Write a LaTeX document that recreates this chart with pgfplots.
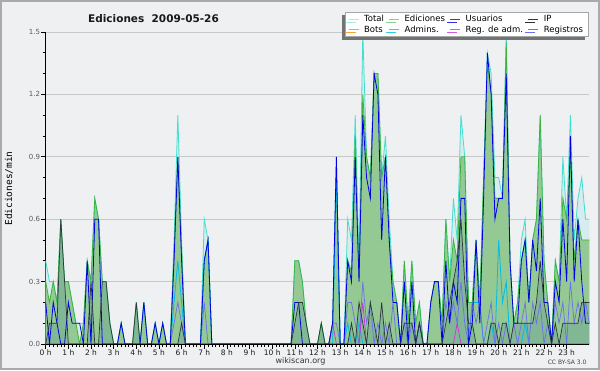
\documentclass[border=0pt]{standalone}
\usepackage{fontspec}
\setmainfont{DejaVu Sans}
\newfontfamily\monofont{DejaVu Sans Mono}
\usepackage{pgfplots}
\usepackage{pgfplotstable}
\pgfplotsset{compat=1.18}
\usetikzlibrary{shadows}

\definecolor{bg}{RGB}{239,240,241}
\definecolor{frame}{RGB}{170,170,170}
\definecolor{totfill}{RGB}{214,236,238}
\definecolor{edfill}{RGB}{148,201,148}
\definecolor{ipfill}{RGB}{70,120,160}
\definecolor{totline}{RGB}{64,224,208}
\definecolor{edline}{RGB}{60,180,60}
\definecolor{usline}{RGB}{0,0,230}
\definecolor{ipline}{RGB}{45,55,55}
\definecolor{botline}{RGB}{255,160,50}
\definecolor{admline}{RGB}{0,190,230}
\definecolor{regadm}{RGB}{200,50,220}
\definecolor{regline}{RGB}{110,110,240}
\definecolor{gridc}{RGB}{200,200,200}

\pgfplotstableread{
i T E U P A M R
0 0.4 0.3 0.2 0.0 0 0 0
1 0.3 0.2 0.0 0.1 0 0 0
2 0.3 0.3 0.2 0.1 0 0 0
3 0.2 0.2 0.1 0.1 0 0 0
4 0.6 0.6 0.0 0.6 0 0 0
5 0.3 0.3 0.0 0.3 0 0 0
6 0.3 0.3 0.2 0.0 0 0 0
7 0.2 0.2 0.1 0.0 0 0 0
8 0.1 0.1 0.1 0.0 0 0 0
9 0.1 0.0 0.1 0.0 0 0 0
10 0.1 0.1 0.0 0.0 0 0 0
11 0.4 0.4 0.4 0.0 0 0 0
12 0.3 0.3 0.0 0.3 0 0 0
13 0.7 0.7 0.6 0.0 0 0 0
14 0.6 0.6 0.6 0.0 0 0 0
15 0.3 0.3 0.0 0.3 0 0 0
16 0.3 0.3 0.0 0.3 0 0 0
17 0.1 0.1 0.0 0.1 0 0 0
18 0 0 0 0 0 0 0
19 0 0 0 0 0 0 0
20 0.1 0.1 0.1 0 0 0 0
21 0 0 0 0 0 0 0
23 0 0 0 0 0 0 0
24 0.2 0.2 0 0.2 0 0 0
25 0 0 0 0 0 0 0
26 0.2 0.2 0.2 0 0 0 0
27 0 0 0 0 0 0 0
28 0 0 0 0 0 0 0
29 0.1 0.1 0.1 0 0 0 0
30 0 0 0 0 0 0 0
31 0.1 0.1 0.1 0 0 0 0
32 0 0 0 0 0 0 0
33 0 0 0 0 0 0 0
34 0.5 0.45 0.4 0 0.2 0 0.1
35 1.1 0.9 0.9 0 0.4 0 0.2
36 0.5 0.45 0.4 0.1 0.2 0 0.1
37 0 0 0 0 0 0 0
41 0 0 0 0 0 0 0
42 0.6 0.4 0.4 0 0.4 0 0.2
43 0.5 0.5 0.5 0 0.5 0 0
44 0 0 0 0 0 0 0
65 0 0 0 0 0 0 0
66 0.4 0.4 0.2 0.1 0 0 0
67 0.4 0.4 0.2 0.2 0 0 0
68 0.3 0.3 0.0 0.2 0 0 0
69 0.1 0.1 0.0 0.1 0 0 0
70 0 0 0 0 0 0 0
72 0 0 0 0 0 0 0
73 0.1 0.1 0 0.1 0 0 0
74 0 0 0 0 0 0 0
75 0 0 0 0 0 0 0
76 0.1 0.1 0.1 0 0 0.1 0.1
77 0.9 0.8 0.9 0 0.8 0 0.1
78 0 0 0 0 0 0 0
79 0 0 0 0 0 0 0
80 0.6 0.4 0.4 0 0.1 0 0.2
81 0.5 0.35 0.3 0.1 0 0 0.2
82 1.1 1.0 0.9 0 0 0 0.1
83 0.4 0.3 0.3 0.2 0.1 0 0
84 1.5 1.2 1.1 0.1 0 0.2 0.3
85 0.9 0.9 0.8 0 0 0 0.1
86 0.8 0.8 0.7 0.2 0 0 0.2
87 1.3 1.3 1.3 0.1 0 0 0
88 1.3 1.3 1.2 0 0 0 0.1
89 0.8 0.8 0.5 0.2 0 0 0
90 1.0 0.9 0.9 0 0 0 0.1
91 0.6 0.5 0.5 0.1 0 0 0
92 0.3 0.3 0.2 0 0 0 0.2
93 0.2 0.2 0.2 0 0 0 0
94 0 0 0 0 0 0 0
95 0.4 0.4 0.3 0.1 0 0 0.1
96 0.1 0.1 0 0.1 0 0 0
97 0.4 0.4 0.3 0.1 0 0 0.1
98 0.1 0.1 0 0 0 0 0
99 0.2 0.2 0.1 0.1 0 0 0
100 0 0 0 0 0 0 0
101 0 0 0 0 0 0 0
102 0.2 0.2 0.2 0 0 0 0
103 0.3 0.3 0.3 0 0 0 0
104 0.3 0.3 0.3 0 0 0 0
105 0.1 0.1 0 0 0 0 0
106 0.6 0.6 0.4 0.1 0 0 0.2
107 0.3 0.3 0.1 0.2 0 0 0.1
108 0.7 0.5 0.3 0.3 0 0 0.2
109 0.5 0.4 0.2 0.4 0 0.1 0.1
110 1.1 0.9 0.7 0.6 0 0 0.3
111 0.9 0.9 0.7 0.3 0 0 0.1
112 0.2 0.2 0 0.1 0 0 0
113 0.2 0.2 0.1 0.1 0.2 0 0.2
114 0.5 0.5 0.5 0 0.2 0 0.1
115 0.2 0.2 0.1 0 0.2 0 0.2
116 0.8 0.8 0.7 0 0 0 0
117 1.4 1.35 1.4 0 0 0 0.1
118 1.3 1.2 1.2 0.1 0.1 0 0.2
119 0.8 0.7 0.6 0.1 0 0 0
120 0.8 0.7 0.7 0 0.5 0 0.1
121 0.7 0.7 0.7 0.1 0.2 0 0
122 1.5 1.45 1.3 0.1 0.3 0 0.1
123 0.4 0.4 0.4 0 0 0 0
124 0.1 0.1 0.1 0.1 0 0 0.1
125 0.2 0.2 0.1 0.1 0 0 0
126 0.5 0.4 0.4 0.1 0 0 0.1
127 0.6 0.5 0.5 0.1 0.1 0 0.2
128 0.2 0.2 0.2 0.1 0 0 0
129 0.5 0.5 0.5 0.1 0 0 0.2
130 0.6 0.6 0.35 0.2 0 0 0.1
131 1.1 1.1 0.7 0.4 0 0 0.2
132 0.4 0.4 0.2 0.2 0 0 0
133 0.2 0.2 0.2 0.1 0 0 0.1
134 0 0 0 0 0 0 0
135 0.4 0.4 0.3 0.1 0 0 0.2
136 0.3 0.3 0.2 0 0 0 0.1
137 0.9 0.7 0.6 0.1 0 0 0.2
138 0.6 0.6 0.3 0.1 0 0 0
139 1.1 0.9 1.0 0.1 0 0 0.3
140 0.5 0.4 0.3 0.1 0 0 0.1
141 0.7 0.6 0.6 0.1 0 0 0.2
142 0.8 0.5 0.3 0.2 0 0 0.1
143 0.6 0.5 0.1 0.2 0 0 0.2
144 0.6 0.5 0.1 0.2 0 0 0.1
}\data

\begin{document}
\begin{tikzpicture}[x=1pt,y=1pt]
\path[use as bounding box] (0,0) rectangle (600,370);
\fill[bg] (0,0) rectangle (600,370);
\draw[frame, line width=2pt] (1,1) rectangle (599,369);

\node[font=\bfseries\fontsize{10.5}{12}\selectfont, text=black!90] at (153.5,351) {Ediciones\ \ 2009-05-26};
\node[rotate=90, font=\monofont\fontsize{9.5}{11}\selectfont] at (9,181.5) {Ediciones/min};
\node[font=\fontsize{8}{9}\selectfont, text=black!80] at (300.5,8.3) {wikiscan.org};
\node[font=\fontsize{6}{7}\selectfont, text=black!75, anchor=east] at (590,8) {CC BY-SA 3.0};

\begin{axis}[
  at={(45.7pt,26pt)}, anchor=south west,
  scale only axis, width=543.6pt, height=312pt,
  xmin=0, xmax=144, ymin=0, ymax=1.5,
  axis x line*=bottom, axis y line*=left,
  axis line style={black, line width=0.8pt, -},
  tick align=outside,
  tick style={black, line width=0.6pt},
  major tick length=4.5pt, minor tick length=3pt,
  xtick={0,6,...,138},
  xticklabels={0 h,1 h,2 h,3 h,4 h,5 h,6 h,7 h,8 h,9 h,10 h,11 h,12 h,13 h,14 h,15 h,16 h,17 h,18 h,19 h,20 h,21 h,22 h,23 h},
  minor x tick num=5,
  xticklabel style={font=\fontsize{7.5}{8}\selectfont, text=black!90, inner sep=1.5pt},
  ytick={0,0.3,0.6,0.9,1.2,1.5},
  minor y tick num=2,
  yticklabel style={font=\fontsize{7}{8}\selectfont, text=black!65, inner sep=1pt,
    /pgf/number format/.cd, fixed, fixed zerofill, precision=1, assume math mode=true},
  ymajorgrids, grid style={gridc, line width=0.6pt},
  clip=false,
  legend columns=4,
  legend cell align=left,
  legend image code/.code={\draw[#1, line width=0.7pt] (0pt,0pt) -- (10pt,0pt);},
  legend style={at={(1,1)}, anchor=north east, xshift=-1pt, yshift=20pt,
    draw=gray!70, fill=white, line width=0.6pt,
    font=\fontsize{8.5}{9}\selectfont,
    inner xsep=3pt, inner ysep=1pt, row sep=-1.5pt,
    /tikz/every odd column/.style={column sep=3pt},
    /tikz/every even column/.style={column sep=3pt},
    drop shadow={shadow xshift=-3pt, shadow yshift=-3pt, fill=black!55, opacity=1}},
]
\addlegendimage{totline!50}\addlegendentry{Total}
\addlegendimage{edline!60}\addlegendentry{Ediciones}
\addlegendimage{usline!80}\addlegendentry{Usuarios}
\addlegendimage{ipline}\addlegendentry{IP}
\addlegendimage{botline}\addlegendentry{Bots}
\addlegendimage{admline!80}\addlegendentry{Admins.}
\addlegendimage{regadm!80}\addlegendentry{Reg. de adm.}
\addlegendimage{regline}\addlegendentry{Registros}

\addplot[forget plot, fill=totfill, draw=none] table[x=i,y=T]{\data} \closedcycle;
\addplot[forget plot, fill=edfill, draw=none] table[x=i,y=E]{\data} \closedcycle;
\addplot[forget plot, fill=ipfill, fill opacity=0.22, draw=none] table[x=i,y=P]{\data} \closedcycle;
\addplot[forget plot, totline, line width=0.8pt] table[x=i,y=T]{\data};
\addplot[forget plot, edline, line width=0.8pt] table[x=i,y=E]{\data};
\addplot[forget plot, admline, line width=0.8pt] table[x=i,y=A]{\data};
\addplot[forget plot, regline, line width=0.7pt] table[x=i,y=R]{\data};
\addplot[forget plot, regadm, line width=0.7pt] table[x=i,y=M]{\data};
\addplot[forget plot, usline, line width=0.8pt] table[x=i,y=U]{\data};
\addplot[forget plot, ipline, line width=0.7pt] table[x=i,y=P]{\data};
\draw[black, line width=0.9pt] (axis cs:0,0) -- (axis cs:144,0);
\end{axis}
\end{tikzpicture}
\end{document}
